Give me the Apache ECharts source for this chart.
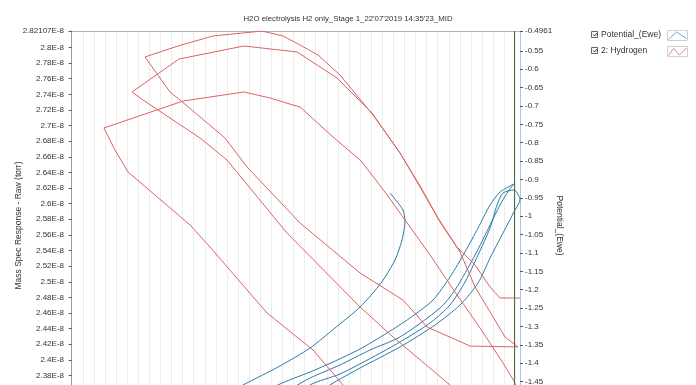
<!DOCTYPE html>
<html><head><meta charset="utf-8">
<script src="https://cdn.jsdelivr.net/npm/echarts@6/dist/echarts.min.js"></script>
<style>html,body{margin:0;padding:0;background:#fff}#c{width:696px;height:385px}</style>
</head><body><div id="c"></div>
<script>
const chartTitle = "H2O electrolysis H2 only_Stage 1_22'07'2019 14:35'23_MID";
const leftAxisName = 'Mass Spec Response - Raw (torr)';
const rightAxisName = 'Potential_(Ewe)';
const seriesNames = ['Potential_(Ewe)', '2: Hydrogen'];

// left axis tick values (units of 1E-8 torr)
const leftTicks = [2.82107, 2.80, 2.78, 2.76, 2.74, 2.72, 2.70, 2.68, 2.66, 2.64, 2.62, 2.60, 2.58, 2.56, 2.54, 2.52, 2.50, 2.48, 2.46, 2.44, 2.42, 2.40, 2.38, 2.36, 2.34];
const leftRange = [2.32299, 2.82107];
// right axis tick values (V)
const rightTicks = [-0.4961, -0.55, -0.6, -0.65, -0.7, -0.75, -0.8, -0.85, -0.9, -0.95, -1, -1.05, -1.1, -1.15, -1.2, -1.25, -1.3, -1.35, -1.4, -1.45, -1.5, -1.55];
const rightRange = [-1.5546, -0.4961];
// hidden x axis (grid divisions)
const xGridTicks = Array.from({length: 41}, (_, i) => i);
const xRange = [-0.2435, 40.42];
const cursorX = 39.88;

// 2: Hydrogen (1E-8 torr)
const hydrogenX = [40.42,38.62,37.72,36.37,34.74,33.03,31.41,29.60,27.17,24.19,22.21,20.59,19.05,17.16,12.74,9.59,6.61,8.86,9.77,13.82,15.81,20.59,26.00,29.87,32.04,35.92,40.24,39.07,37.72,36.37,35.01,33.21,31.41,29.60,27.08,23.92,20.32,15.54,9.68,5.44,6.43,11.57,14.00,19.41,26.00,28.97,34.11,35.73,39.97,40.24,39.88,38.89,36.82,34.56,32.31,30.05,28.25,26.72,26.00,23.56,20.59,19.96,17.88,15.54,10.04,2.91,3.90,5.08,10.67,12.47,17.61,21.76,24.46,25.55];
const hydrogenY = [2.4792,2.4792,2.4933,2.5215,2.5445,2.5816,2.6226,2.6649,2.7135,2.7647,2.7903,2.8031,2.8147,2.8210,2.8147,2.8019,2.7878,2.7430,2.7327,2.6841,2.6469,2.5752,2.5112,2.4766,2.4421,2.4177,2.4165,2.4293,2.4613,2.4933,2.5381,2.5765,2.6213,2.6649,2.7161,2.7609,2.7942,2.8019,2.7852,2.7430,2.7327,2.6841,2.6559,2.5624,2.4677,2.4293,2.3678,2.3486,2.3486,2.3588,2.3729,2.3960,2.4408,2.4869,2.5343,2.5791,2.6149,2.6431,2.6559,2.6853,2.7238,2.7263,2.7353,2.7430,2.7314,2.6969,2.6687,2.6405,2.5727,2.5445,2.4600,2.4126,2.3678,2.3486];

// Potential_(Ewe) (V)
const potentialX = [28.70,29.87,30.05,29.78,29.15,27.89,26.00,23.74,21.49,18.78,15.45,12.92,16.53,18.60,21.49,23.56,26.00,28.43,30.50,32.58,34.11,35.46,36.64,37.72,38.62,39.88,39.43,38.62,37.72,36.37,34.56,33.21,29.60,26.90,24.19,21.49,19.23,17.43,20.14,21.49,24.19,27.17,29.60,32.31,34.11,35.46,36.64,37.72,38.35,38.89,39.88,40.42,39.97,38.89,37.72,36.64,35.01,32.76,29.60,26.00,23.29,21.49];
const potentialY = [-0.9369,-0.9832,-1.0158,-1.0648,-1.1192,-1.1818,-1.2471,-1.3042,-1.3587,-1.4076,-1.4593,-1.5001,-1.5001,-1.4593,-1.4240,-1.3968,-1.3614,-1.3178,-1.2770,-1.2280,-1.1655,-1.0974,-1.0321,-0.9696,-0.9342,-0.9124,-0.9287,-0.9696,-1.0240,-1.1056,-1.2008,-1.2498,-1.3287,-1.3641,-1.4049,-1.4403,-1.4784,-1.5001,-1.5001,-1.4593,-1.4294,-1.3831,-1.3423,-1.2906,-1.2417,-1.1791,-1.1056,-1.0321,-0.9696,-0.9369,-0.9287,-0.9559,-0.9832,-1.0457,-1.1138,-1.1818,-1.2417,-1.2961,-1.3559,-1.4131,-1.4593,-1.5001];

const FONT = 'Liberation Sans, Arial, sans-serif';
const BLUE = '#2c7aa6';
const RED = '#d86464';
const zip = (xs, ys) => xs.map((x, i) => [x, ys[i]]);

const chart = echarts.init(document.getElementById('c'), null, {renderer: 'canvas'});

function legendRow(y, label, color, zig) {
  return [
    {type: 'rect', shape: {x: 591.5, y: y + 0.5, width: 6, height: 6}, style: {fill: '#fff', stroke: '#666', lineWidth: 1}},
    {type: 'polyline', shape: {points: [[593, y + 3.5], [594.5, y + 5], [597, y + 2]]}, style: {stroke: '#333', fill: null, lineWidth: 1}},
    {type: 'text', style: {text: label, x: 601, y: y + 4, verticalAlign: 'middle', font: '8.5px ' + FONT, fill: '#333'}},
    {type: 'rect', shape: {x: 667.5, y: y - 0.5, width: 20, height: 10}, style: {fill: '#fff', stroke: '#d0d0d0', lineWidth: 1}},
    {type: 'polyline', shape: {points: zig.map(p => [667.5 + p[0], y - 0.5 + p[1]])}, style: {stroke: color, fill: null, lineWidth: 1}}
  ];
}

chart.setOption({
  animation: false,
  backgroundColor: '#fff',
  title: {
    text: chartTitle, left: 'center', top: 10,
    textStyle: {fontSize: 7.8, fontWeight: 'normal', color: '#333', fontFamily: FONT}
  },
  grid: {left: 69, right: 176, top: 31, bottom: -35, containLabel: false, outerBoundsMode: 'none'},
  xAxis: {
    type: 'value', position: 'top', min: xRange[0], max: xRange[1],
    axisLine: {show: true, lineStyle: {color: '#b4b4b4', width: 1}},
    axisTick: {show: false, customValues: xGridTicks},
    axisLabel: {show: false, customValues: xGridTicks},
    splitLine: {show: true, lineStyle: {color: '#ececec', width: 1}}
  },
  yAxis: [
    {
      type: 'value', position: 'left', min: leftRange[0], max: leftRange[1],
      name: leftAxisName, nameLocation: 'middle', nameGap: 46, nameMoveOverlap: false,
      nameTextStyle: {fontSize: 8.5, color: '#333', fontFamily: FONT},
      axisLine: {show: true, lineStyle: {color: '#9a9a9a'}},
      axisTick: {show: true, length: 3, customValues: leftTicks, lineStyle: {color: '#555'}},
      axisLabel: {customValues: leftTicks, margin: 5, fontSize: 8, color: '#333', fontFamily: FONT,
        formatter: v => String(+(+v).toFixed(5)) + 'E-8'},
      splitLine: {show: false}
    },
    {
      type: 'value', position: 'right', min: rightRange[0], max: rightRange[1],
      name: rightAxisName, nameLocation: 'middle', nameGap: 35, nameRotate: -90, nameMoveOverlap: false,
      nameTextStyle: {fontSize: 8.5, color: '#333', fontFamily: FONT},
      axisLine: {show: true, lineStyle: {color: '#a9c9e2'}},
      axisTick: {show: true, length: 3, customValues: rightTicks, lineStyle: {color: '#555'}},
      axisLabel: {customValues: rightTicks, margin: 5, fontSize: 8, color: '#333', fontFamily: FONT,
        formatter: v => String(+(+v).toFixed(4))},
      splitLine: {show: false}
    }
  ],
  series: [
    {
      name: seriesNames[0], type: 'line', yAxisIndex: 1, data: zip(potentialX, potentialY),
      showSymbol: false, symbol: 'none', smooth: 0.25, lineStyle: {color: BLUE, width: 1}, itemStyle: {color: BLUE},
      markLine: {silent: true, symbol: 'none', label: {show: false},
        lineStyle: {color: '#4f6b3c', type: 'solid', width: 1}, data: [{xAxis: cursorX}]}
    },
    {
      name: seriesNames[1], type: 'line', yAxisIndex: 0, data: zip(hydrogenX, hydrogenY),
      showSymbol: false, symbol: 'none', lineStyle: {color: RED, width: 1}, itemStyle: {color: RED}
    }
  ],
  graphic: [
    ...legendRow(31, seriesNames[0], '#6aa8d0', [[1, 9], [9, 1.5], [19, 8]]),
    ...legendRow(47, seriesNames[1], '#e08080', [[1, 9], [6, 2], [12, 8.5], [19, 1.5]])
  ]
});
</script></body></html>
